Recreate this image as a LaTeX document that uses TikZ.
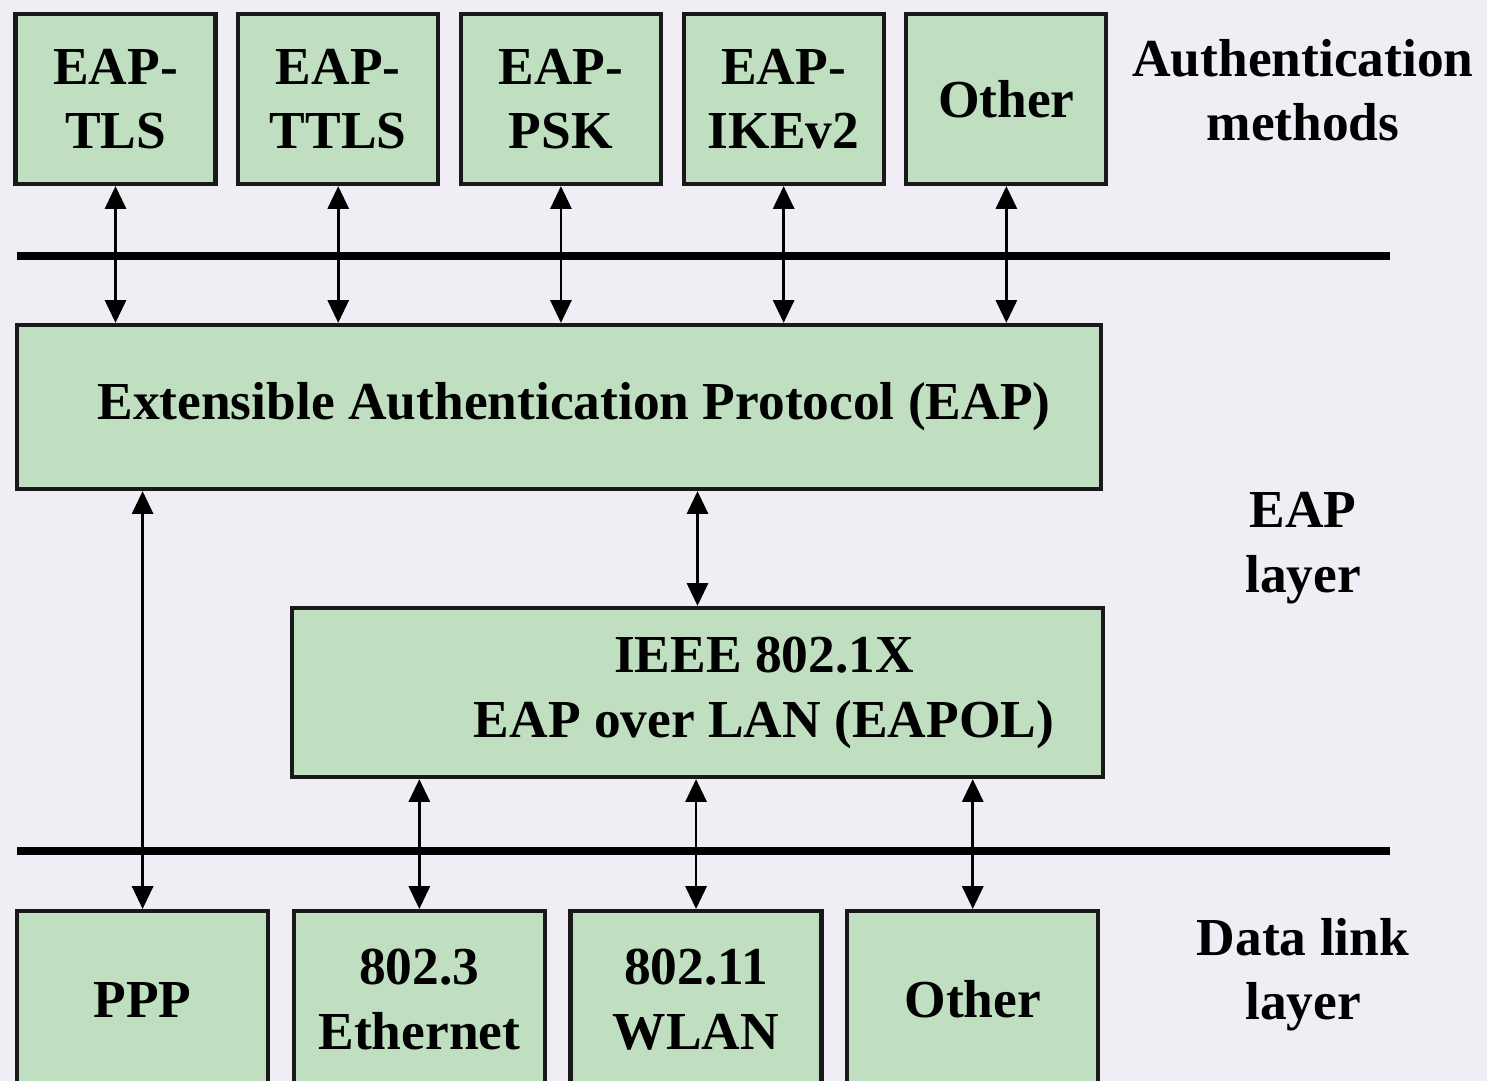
\documentclass[tikz,border=0pt]{standalone}
\usepackage{xcolor}
\usepackage{fontspec}
\setmainfont{Liberation Serif}
\usepackage{tikz}
\usetikzlibrary{arrows.meta, positioning, calc}
\definecolor{boxgreen}{RGB}{192,223,192}
\definecolor{paper}{RGB}{240,238,244}
\tikzstyle{layerbox} = [rectangle, draw=black!90, line width=1.2pt, fill=boxgreen, inner sep=0pt, align=center]
\tikzstyle{methodbox} = [layerbox, minimum width=2.00cm, minimum height=1.70cm]
\tikzstyle{linkbox} = [layerbox, minimum width=2.51cm, minimum height=1.77cm]
\tikzstyle{sidelabel} = [align=center]
\tikzstyle{biarrow} = [line width=0.8pt, {Triangle[width=6pt,length=6.5pt]}-{Triangle[width=6pt,length=6.5pt]}]
\tikzstyle{bar} = [line width=2.4pt]
\begin{document}
\begin{tikzpicture}[every node/.style={font=\bfseries\fontsize{15.2}{18.3}\selectfont}]
    \fill[paper] (0,0) rectangle (14.87,-10.81);
    \useasboundingbox (0,0) rectangle (14.87,-10.81);
    \clip (0,0) rectangle (14.87,-10.81);

    % authentication methods
    \node[methodbox] (tls) at (1.155,-0.99) {EAP-\\TLS};
    \node[methodbox, right=0.185cm of tls] (ttls) {EAP-\\TTLS};
    \node[methodbox, right=0.185cm of ttls] (psk) {EAP-\\PSK};
    \node[methodbox, right=0.185cm of psk] (ikev) {EAP-\\IKEv2};
    \node[methodbox, right=0.185cm of ikev] (othermethod) {Other};

    % EAP layer
    \node[layerbox, minimum width=10.84cm, minimum height=1.64cm] (eap) at (5.59,-4.07) {\hspace*{0.3cm}Extensible Authentication Protocol (EAP)};
    \node[layerbox, minimum width=8.11cm, minimum height=1.69cm] (ieee) at (6.975,-6.925) {};
    \node[align=center] (ieeetext) at (7.64,-6.93) {IEEE 802.1X\\EAP over LAN (EAPOL)};

    % data link layer
    \node[linkbox, anchor=north west] (ppp) at (0.15,-9.09) {PPP};
    \node[linkbox, right=0.215cm of ppp] (ethernet) {802.3\\Ethernet};
    \node[linkbox, right=0.215cm of ethernet] (wlan) {802.11\\WLAN};
    \node[linkbox, right=0.215cm of wlan] (otherlink) {Other};

    % bars
    \coordinate (barAw) at (0.17,-2.56);
    \coordinate (barAe) at (13.90,-2.56);
    \coordinate (barBw) at (0.17,-8.51);
    \coordinate (barBe) at (13.90,-8.51);
    \draw[bar] (barAw) -- (barAe);
    \draw[bar] (barBw) -- (barBe);

    % side labels
    \node[sidelabel] (authlbl) at (13.03,-0.90) {Authentication\\methods};
    \node[sidelabel] (eaplbl) at (13.03,-5.48) {EAP\\layer};
    \node[sidelabel] (linklbl) at (13.03,-9.75) {Data link\\layer};

    % arrows
    \draw[biarrow] (tls.south) -- (tls.south |- eap.north);
    \draw[biarrow] (ttls.south) -- (ttls.south |- eap.north);
    \draw[biarrow] (psk.south) -- (psk.south |- eap.north);
    \draw[biarrow] (ikev.south) -- (ikev.south |- eap.north);
    \draw[biarrow] (othermethod.south) -- (othermethod.south |- eap.north);

    \draw[biarrow] (ppp.north) -- (ppp.north |- eap.south);
    \draw[biarrow] (ieee.north) -- (ieee.north |- eap.south);

    \draw[biarrow] (ethernet.north) -- (ethernet.north |- ieee.south);
    \draw[biarrow] (wlan.north) -- (wlan.north |- ieee.south);
    \draw[biarrow] (otherlink.north) -- (otherlink.north |- ieee.south);
\end{tikzpicture}
\end{document}
